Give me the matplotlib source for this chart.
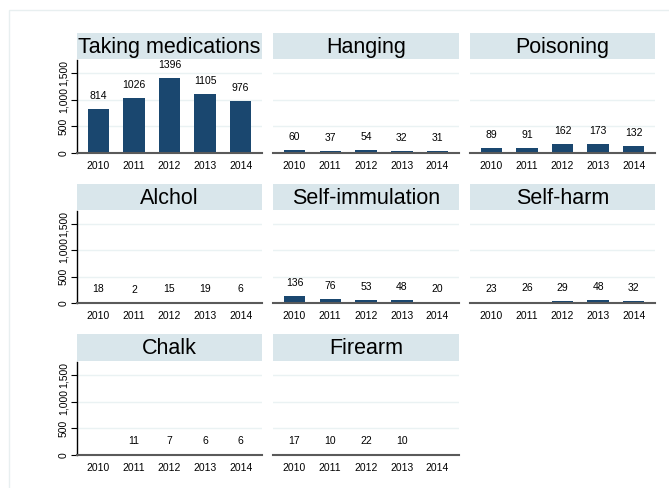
import numpy as np
import matplotlib.pyplot as plt
from matplotlib.patches import Rectangle

plt.rcParams['font.family'] = ['Liberation Sans', 'DejaVu Sans']

years = ['2010', '2011', '2012', '2013', '2014']
methods = ['Taking medications', 'Hanging', 'Poisoning',
           'Alchol', 'Self-immulation', 'Self-harm',
           'Chalk', 'Firearm']
taking_med = [814, 1026, 1396, 1105, 976]
hanging = [60, 37, 54, 32, 31]
poisoning = [89, 91, 162, 173, 132]
alchol = [18, 2, 15, 19, 6]
self_imm = [136, 76, 53, 48, 20]
self_harm = [23, 26, 29, 48, 32]
chalk = [np.nan, 11, 7, 6, 6]
firearm = [17, 10, 22, 10, np.nan]
series = [taking_med, hanging, poisoning, alchol, self_imm, self_harm, chalk, firearm]

W, H = 669, 488
fig = plt.figure(figsize=(W / 100, H / 100), dpi=100)
fig.patches.append(Rectangle((9 / W, -0.1), 1.2, (H - 10) / H + 0.1,
                             transform=fig.transFigure, fill=False,
                             edgecolor='#e8eff0', linewidth=1))

col_x = [(77, 262), (273, 459), (470, 655)]
row_y = [(33, 60, 153), (184, 211, 303), (334, 362, 455)]
bar_col = '#1a476f'
strip_col = '#d9e6eb'
grid_col = '#eaf2f3'

for i, (name, vals) in enumerate(zip(methods, series)):
    r, c = divmod(i, 3)
    x0, x1 = col_x[c]
    st, at, ab = row_y[r]
    # strip
    sax = fig.add_axes([x0 / W, 1 - (at - 1) / H, (x1 - x0) / W, (at - 1 - st) / H])
    sax.set_facecolor(strip_col)
    sax.set_xticks([]); sax.set_yticks([])
    for s in sax.spines.values():
        s.set_visible(False)
    sax.text(0.5, 0.45, name, ha='center', va='center', fontsize=15.5,
             transform=sax.transAxes)

    ax = fig.add_axes([x0 / W, 1 - ab / H, (x1 - x0) / W, (ab - at) / H])
    x = np.arange(len(years))
    v = np.array(vals, dtype=float)
    ax.bar(x, np.nan_to_num(v), width=0.6, color=bar_col, zorder=3)
    for xi, vi in zip(x, v):
        if not np.isnan(vi):
            ax.annotate(f'{int(vi)}', (xi, vi), xytext=(0, 9.5),
                        textcoords='offset points', ha='center', va='center',
                        fontsize=7.5)
    ax.set_xlim(-0.6, 4.6)
    ax.set_ylim(0, 1740)
    ax.set_yticks([0, 500, 1000, 1500])
    ax.grid(axis='y', color=grid_col, linewidth=1, zorder=0)
    ax.set_xticks(x)
    ax.set_xticklabels(years, fontsize=7.5)
    ax.tick_params(axis='x', length=0, pad=6)
    for s in ['top', 'right']:
        ax.spines[s].set_visible(False)
    ax.spines['bottom'].set_color('#5a5a5a')
    ax.spines['bottom'].set_linewidth(1.5)
    ax.spines['bottom'].set_zorder(4)
    if c == 0:
        ax.spines['left'].set_color('black')
        ax.spines['left'].set_linewidth(1)
        ax.set_yticklabels(['0', '500', '1,000', '1,500'], rotation=90,
                           va='center', fontsize=7.5)
        ax.tick_params(axis='y', length=4, width=0.8, pad=2)
    else:
        ax.spines['left'].set_visible(False)
        ax.tick_params(axis='y', length=0, labelleft=False)

fig.savefig('out.png', dpi=100, facecolor='white')
